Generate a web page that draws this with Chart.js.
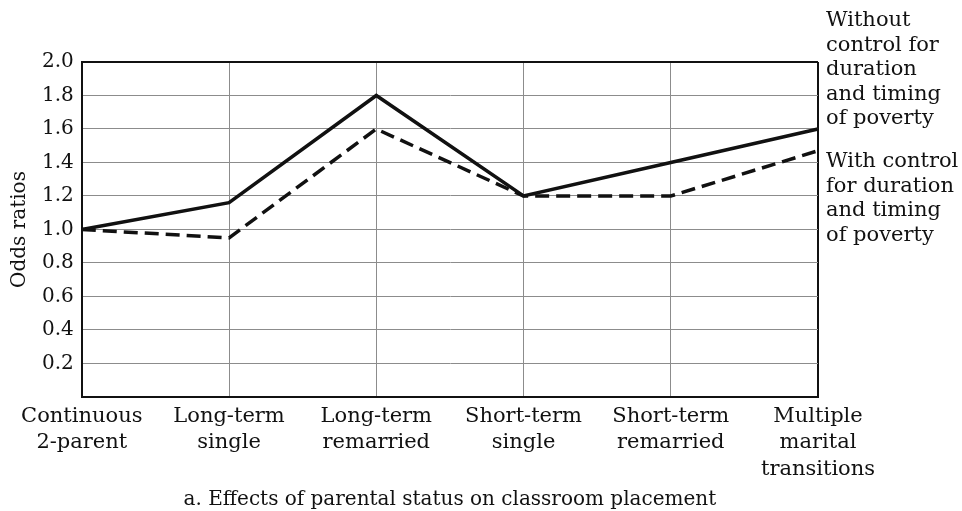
<!DOCTYPE html>
<html>
<head>
<meta charset="utf-8">
<script src="https://cdn.jsdelivr.net/npm/chart.js@4.4.1/dist/chart.umd.min.js"></script>
<style>
  html, body { margin: 0; padding: 0; background: #fff; }
  #wrap { width: 962px; height: 511px; position: relative; }
</style>
</head>
<body>
<div id="wrap"><canvas id="oddsChart"></canvas></div>
<script>
// categories and series
const categories = [
  ['Continuous', '2-parent'],
  ['Long-term', 'single'],
  ['Long-term', 'remarried'],
  ['Short-term', 'single'],
  ['Short-term', 'remarried'],
  ['Multiple', 'marital', 'transitions']
];
const withoutControl = [1.0, 1.16, 1.8, 1.2, 1.4, 1.6];
const withControl = [1.0, 0.95, 1.6, 1.2, 1.2, 1.47];
const withoutLabel = ['Without', 'control for', 'duration', 'and timing', 'of poverty'];
const withLabel = ['With control', 'for duration', 'and timing', 'of poverty'];

const FONT = 'DejaVu Serif';
const INK = '#111';
const GRID = '#8c8c8c';

// series labels written to the right of the plot
const sideLabels = {
  id: 'sideLabels',
  afterDraw(chart) {
    const { ctx, chartArea } = chart;
    const x = chartArea.right + 8;
    ctx.save();
    ctx.fillStyle = INK;
    ctx.font = '21px "' + FONT + '"';
    ctx.textAlign = 'left';
    ctx.textBaseline = 'alphabetic';
    withoutLabel.forEach((t, i) => ctx.fillText(t, x, chartArea.top - 36 + i * 24.5));
    withLabel.forEach((t, i) => ctx.fillText(t, x, chartArea.top + 105 + i * 24.5));
    ctx.restore();
  }
};

new Chart(document.getElementById('oddsChart'), {
  type: 'line',
  data: {
    labels: categories,
    datasets: [
      {
        label: withoutLabel.join(' '),
        data: withoutControl,
        borderColor: '#111',
        borderWidth: 3.5,
        pointRadius: 0,
        tension: 0
      },
      {
        label: withLabel.join(' '),
        data: withControl,
        borderColor: '#111',
        borderWidth: 3.5,
        borderDash: [14, 7],
        pointRadius: 0,
        tension: 0
      }
    ]
  },
  options: {
    responsive: true,
    maintainAspectRatio: false,
    animation: false,
    layout: { padding: { top: 62, right: 144, left: 8, bottom: 0 } },
    plugins: { legend: { display: false }, tooltip: { enabled: false } },
    scales: {
      x: {
        offset: false,
        grid: {
          color: (c) => c.index === categories.length - 1 ? INK : GRID,
          lineWidth: (c) => c.index === categories.length - 1 ? 2 : 1,
          drawTicks: false
        },
        border: { color: INK, width: 2 },
        ticks: {
          color: INK,
          font: { family: FONT, size: 21, lineHeight: 1.27 },
          padding: 6,
          maxRotation: 0,
          autoSkip: false
        },
        title: {
          display: true,
          text: 'a. Effects of parental status on classroom placement',
          color: INK,
          font: { family: FONT, size: 20, lineHeight: 1.1 },
          padding: { top: 0, bottom: 0 }
        }
      },
      y: {
        min: 0,
        max: 2.0,
        grid: {
          color: (c) => c.tick && c.tick.value === 2 ? INK : GRID,
          lineWidth: (c) => c.tick && c.tick.value === 2 ? 2 : 1,
          drawTicks: false
        },
        border: { color: INK, width: 2 },
        ticks: {
          stepSize: 0.2,
          color: INK,
          font: { family: FONT, size: 20 },
          padding: 8,
          callback: (v) => v === 0 ? '' : v.toFixed(1)
        },
        title: {
          display: true,
          text: 'Odds ratios',
          color: INK,
          font: { family: FONT, size: 20 },
          padding: { top: 0, bottom: 2 }
        }
      }
    }
  },
  plugins: [sideLabels]
});
</script>
</body>
</html>
